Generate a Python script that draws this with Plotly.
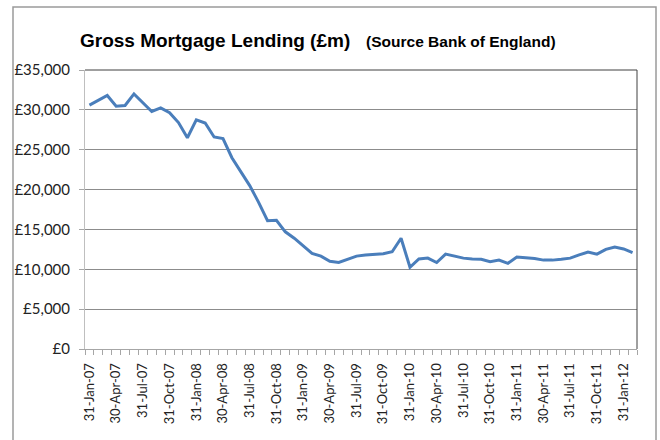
import plotly.graph_objects as go

# Monthly gross mortgage lending, £m (Jan 2007 .. Feb 2012)
lending = [
    30600, 31200, 31800, 30450, 30550, 32000, 30850, 29800, 30250, 29650,
    28400, 26500, 28750, 28350, 26600, 26400, 24000, 22200, 20500, 18400,
    16100, 16150, 14700, 13900, 12900, 12000, 11650, 11000, 10850, 11250,
    11650, 11800, 11850, 11950, 12200, 13900, 10250, 11300, 11400, 10850,
    11900, 11650, 11400, 11300, 11250, 10950, 11150, 10750, 11550, 11450,
    11350, 11150, 11150, 11250, 11400, 11800, 12150, 11900, 12500, 12800,
    12550, 12100,
]

# Labels shown on every third month
tick_labels = [
    "31-Jan-07", "30-Apr-07", "31-Jul-07", "31-Oct-07",
    "31-Jan-08", "30-Apr-08", "31-Jul-08", "31-Oct-08",
    "31-Jan-09", "30-Apr-09", "31-Jul-09", "31-Oct-09",
    "31-Jan-10", "30-Apr-10", "31-Jul-10", "31-Oct-10",
    "31-Jan-11", "30-Apr-11", "31-Jul-11", "31-Oct-11",
    "31-Jan-12",
]

n = len(lending)
x_idx = list(range(n))
tick_pos = list(range(0, n, 3))[:len(tick_labels)]
boundaries = [i - 0.5 for i in range(n + 1)]

W, H = 660, 440
L, R, T, B = 85, 23, 70, 91
pw, ph = W - L - R, H - T - B


def px(xp):
    return (xp - L) / pw


def py(yp):
    return (H - B - yp) / ph


fig = go.Figure()
fig.add_trace(go.Scatter(
    x=x_idx, y=lending, mode="lines",
    line=dict(color="#4a7ebb", width=3),
    hoverinfo="y",
))

x_font = dict(family="Lato, Open Sans, sans-serif", size=13, color="#222222")
y_font = dict(family="Lato, Open Sans, sans-serif", size=15, color="#222222")

fig.update_layout(
    width=W, height=H,
    margin=dict(l=L, r=R, t=T, b=B),
    paper_bgcolor="white", plot_bgcolor="white",
    showlegend=False,
    title=dict(
        text=("<b>Gross Mortgage Lending (£m)</b>&nbsp;&nbsp; "
              "<b><span style='font-size:15.5px'>(Source Bank of England)</span></b>"),
        x=80 / W, xanchor="left", y=1 - 40 / H, yanchor="middle",
        font=dict(family="Liberation Sans, Arial, sans-serif", size=19, color="black"),
    ),
    xaxis=dict(
        range=[-0.5, n - 0.5],
        tickmode="array", tickvals=tick_pos, ticktext=tick_labels,
        tickangle=-90, ticks="", showgrid=False, zeroline=False,
        showline=True, linecolor="#a6a6a6", linewidth=1,
        tickfont=x_font, ticklabelstandoff=8,
        minor=dict(ticks="outside", ticklen=5, tickcolor="#a6a6a6",
                   tickmode="array", tickvals=boundaries, showgrid=False),
    ),
    yaxis=dict(
        range=[0, 35000], dtick=5000, tick0=0,
        tickprefix="£", tickformat=",d",
        ticks="outside", ticklen=5, tickcolor="#a6a6a6",
        showgrid=True, gridcolor="#8c8c8c", gridwidth=1,
        zeroline=False,
        showline=True, linecolor="#bfbfbf", linewidth=1,
        tickfont=y_font, ticklabelstandoff=6,
    ),
    shapes=[
        # plot area top and right border
        dict(type="line", xref="paper", yref="paper", x0=0, x1=1, y0=1, y1=1,
             line=dict(color="#404040", width=1)),
        dict(type="line", xref="paper", yref="paper", x0=1, x1=1, y0=0, y1=1,
             line=dict(color="#404040", width=1)),
        # chart frame
        dict(type="rect", xref="paper", yref="paper",
             x0=px(13), x1=px(656), y0=py(460), y1=py(7),
             line=dict(color="#9a9a9a", width=1.5), layer="below"),
    ],
)

fig.write_html("out.html")
